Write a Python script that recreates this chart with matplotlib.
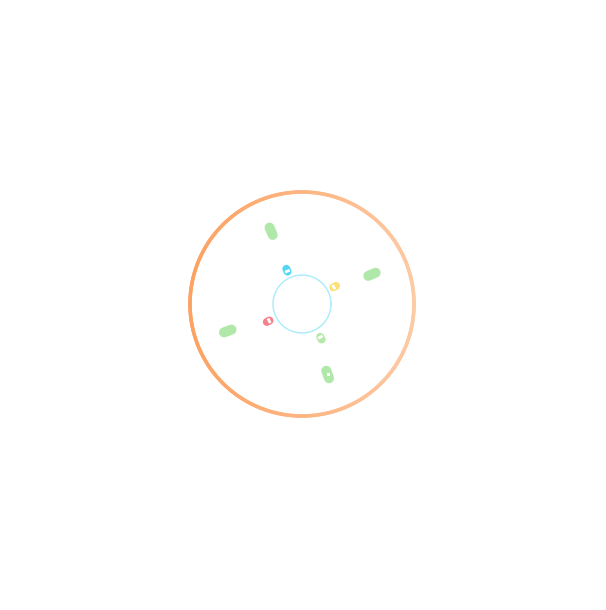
import numpy as np
import matplotlib.pyplot as plt
from matplotlib.collections import LineCollection
from matplotlib.colors import LinearSegmentedColormap

# Anillos (radio en px)
outer_r = 112
inner_r = 29

# Capsulas verdes grandes: angulo (grados) y radio
big_angles = [113, 23, 200, 290]
big_radii = [79, 76, 79, 75]
big_dot = [False, False, False, True]

# Capsulas pequenas de colores
small_angles = [114, 28, 207, 299]
small_radii = [37, 37, 38, 39]
small_colors = ["#55d5f6", "#fddf76", "#f7808c", "#b4eaa9"]

W, H, dpi = 606, 610, 100
cx, cy = 302, 304
rmax = 120

fig = plt.figure(figsize=(W / dpi, H / dpi), dpi=dpi, facecolor="w")
ax = fig.add_axes([(cx - rmax) / W, (H - cy - rmax) / H, 2 * rmax / W, 2 * rmax / H],
                  projection="polar")
ax.set_ylim(0, rmax)
ax.set_axis_off()

px = 72 / dpi  # puntos por pixel

# Anillo exterior con degradado horizontal
cmap = LinearSegmentedColormap.from_list("nar", ["#fca262", "#fdb582", "#fdcaa4"])
th = np.linspace(0, 2 * np.pi, 361)
pts = np.column_stack([th, np.full_like(th, outer_r)])
segs = np.stack([pts[:-1], pts[1:]], axis=1)
xs = np.cos((th[:-1] + th[1:]) / 2)
lc = LineCollection(segs, cmap=cmap, linewidth=3.6 * px, capstyle="round")
lc.set_array((xs + 1) / 2)
lc.set_clim(0, 1)
ax.add_collection(lc)

# Anillo interior
ax.plot(th, np.full_like(th, inner_r), color="#a9ecfb", lw=1.4 * px)

# Capsulas grandes
for ang, r, dot in zip(big_angles, big_radii, big_dot):
    t = np.deg2rad(ang)
    ax.plot([t, t], [r - 4, r + 4], color="#b0e8aa", lw=10 * px,
            solid_capstyle="round")
    if dot:
        ax.plot([t], [r], "s", color="w", ms=3 * px, mew=0)

# Capsulas pequenas
for ang, r, col in zip(small_angles, small_radii, small_colors):
    t = np.deg2rad(ang)
    ax.plot([t, t], [r - 1.5, r + 1.5], color=col, lw=8 * px, solid_capstyle="round")
    ax.plot([t, t], [r - 2.5, r + 0.3], color="w", lw=5 * px, solid_capstyle="butt")

fig.savefig("out.png", dpi=dpi, facecolor="w")
